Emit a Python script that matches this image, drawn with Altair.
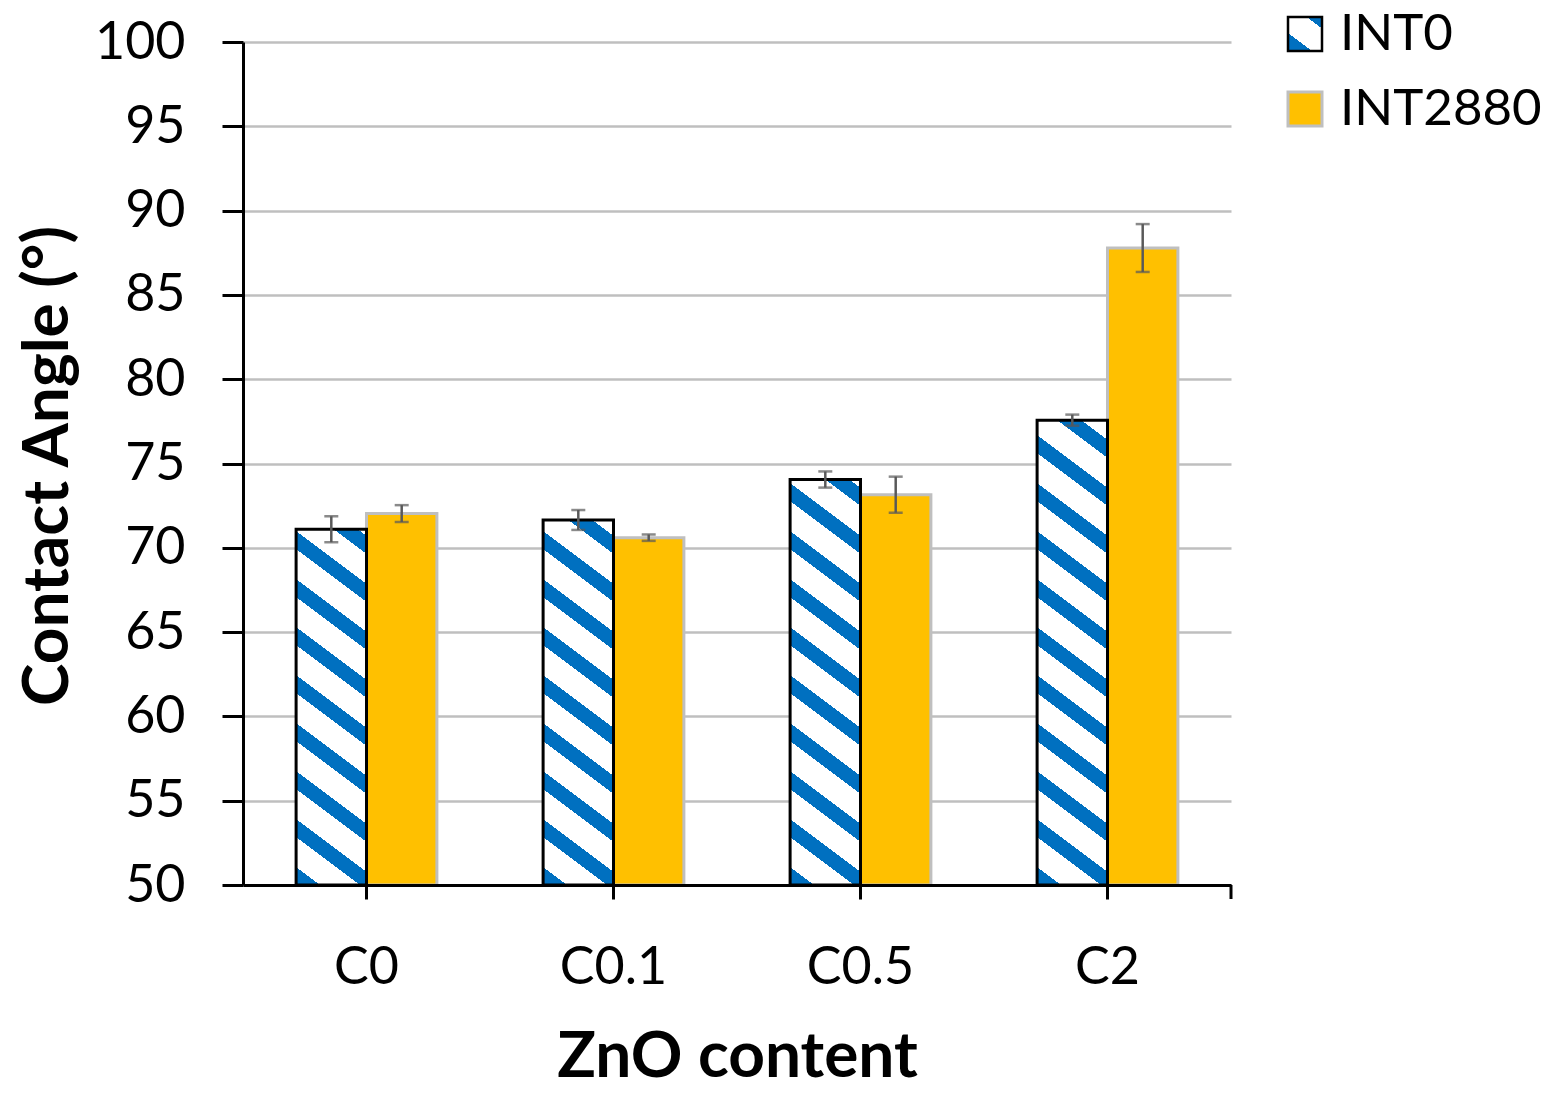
import altair as alt
import pandas as pd

# ---- data ----
categories = ["C0", "C0.1", "C0.5", "C2"]
series = ["INT0", "INT2880"]
int0_values = [71.1, 71.65, 74.05, 77.57]
int0_errors = [0.77, 0.59, 0.48, 0.33]
int2880_values = [72.03, 70.6, 73.15, 87.78]
int2880_errors = [0.5, 0.19, 1.07, 1.42]
y_ticks = [50, 55, 60, 65, 70, 75, 80, 85, 90, 95, 100]

# ---- style ----
W, H = 988, 843
Y_MIN, Y_MAX = 50, 100
FONT = "Lato"
BLUE = "#0070C0"
WHITE = "#FFFFFF"
ORANGE = "#FFC000"
LIGHTGRAY = "#BFBFBF"
ERRGRAY = "#595959"
PAD_INNER, PAD_OUTER = 0.43, 0.215
SLOPE, PERIOD, BAND = 0.75, 48.0, 18.0

rows = []
for c, v, e in zip(categories, int0_values, int0_errors):
    rows.append({"cat": c, "series": "INT0", "value": v, "lo": v - e, "hi": v + e})
for c, v, e in zip(categories, int2880_values, int2880_errors):
    rows.append({"cat": c, "series": "INT2880", "value": v, "lo": v - e, "hi": v + e})
df = pd.DataFrame(rows)


def stripe_gradient(w, h):
    """Diagonal stripe fill as a hard-stop linear gradient (bbox units)."""
    span = SLOPE * w + h
    k = span / (SLOPE ** 2 * w ** 2 + h ** 2)
    edges = {0.0, span}
    p = 0.0
    while p < span:
        for e in (p, p + BAND):
            if 0 < e < span:
                edges.add(e)
        p += PERIOD
    pts = sorted(edges)
    stops = []
    for a, b in zip(pts[:-1], pts[1:]):
        mid = (a + b) / 2
        col = BLUE if (mid % PERIOD) < BAND else WHITE
        stops.append({"offset": a / span, "color": col})
        stops.append({"offset": b / span, "color": col})
    return {"gradient": "linear", "x1": 0, "y1": 1,
            "x2": k * SLOPE * w, "y2": 1 - k * h, "stops": stops}


step = W / (len(categories) - PAD_INNER + 2 * PAD_OUTER)
bar_w = step * (1 - PAD_INNER) / len(series)

x_enc = alt.X(
    "cat:N",
    scale=alt.Scale(domain=categories, paddingInner=PAD_INNER, paddingOuter=PAD_OUTER),
    axis=alt.Axis(
        title="ZnO content", labelAngle=0, bandPosition=0.5,
        tickSize=14, tickWidth=3, tickColor="black",
        domainColor="black", domainWidth=3,
        labelPadding=84, labelBaseline="alphabetic",
        titleX=W / 2, titleY=191, titleBaseline="alphabetic", titleAlign="center",
        grid=False, zindex=1,
    ),
)
xo_enc = alt.XOffset("series:N", scale=alt.Scale(domain=series, paddingInner=0, paddingOuter=0))
y_enc = alt.Y(
    "value:Q",
    scale=alt.Scale(domain=[Y_MIN, Y_MAX], nice=False, zero=False),
    axis=alt.Axis(
        title="Contact Angle (°)", values=y_ticks,
        tickSize=21, tickWidth=3, tickColor="black",
        domainColor="black", domainWidth=3,
        labelPadding=37,
        grid=True, gridColor=LIGHTGRAY, gridWidth=2.5,
        titleX=-176, titleY=H / 2 + 2, titleBaseline="alphabetic", titleAlign="center",
    ),
)
base = alt.Chart(df)

bars_2880 = base.transform_filter(alt.datum.series == "INT2880").mark_bar(
    fill=ORANGE, stroke=LIGHTGRAY, strokeWidth=3
).encode(x=x_enc, xOffset=xo_enc, y=y_enc, y2=alt.datum(Y_MIN))

int0_layers = []
for c, v in zip(categories, int0_values):
    h = (v - Y_MIN) / (Y_MAX - Y_MIN) * H
    int0_layers.append(
        base.transform_filter((alt.datum.series == "INT0") & (alt.datum.cat == c))
        .mark_bar(fill=stripe_gradient(bar_w, h), stroke="black", strokeWidth=3)
        .encode(x=x_enc, xOffset=xo_enc, y=y_enc, y2=alt.datum(Y_MIN))
    )

err_rule = base.mark_rule(color=ERRGRAY, strokeWidth=2.5).encode(
    x=x_enc, xOffset=xo_enc, y=alt.Y("lo:Q"), y2="hi:Q"
)
err_lo = base.mark_tick(color=ERRGRAY, thickness=2.5, size=14).encode(
    x=x_enc, xOffset=xo_enc, y=alt.Y("lo:Q")
)
err_hi = base.mark_tick(color=ERRGRAY, thickness=2.5, size=14).encode(
    x=x_enc, xOffset=xo_enc, y=alt.Y("hi:Q")
)

# end tick at right of the category axis
end_tick = alt.Chart(pd.DataFrame({"k": [0]})).mark_rule(color="black", strokeWidth=3).encode(
    x=alt.value(W), y=alt.value(H), y2=alt.value(H + 14)
)

# ---- legend ----
leg_df0 = pd.DataFrame({"series": [series[0]]})
leg_df1 = pd.DataFrame({"series": [series[1]]})
LX0, LX1 = 1045, 1079
leg_sq0 = alt.Chart(leg_df0).mark_rect(
    fill=stripe_gradient(LX1 - LX0, 34), stroke="black", strokeWidth=2.5
).encode(x=alt.value(LX0), x2=alt.value(LX1), y=alt.value(-25), y2=alt.value(9))
leg_sq1 = alt.Chart(leg_df1).mark_rect(
    fill=ORANGE, stroke=LIGHTGRAY, strokeWidth=3
).encode(x=alt.value(LX0), x2=alt.value(LX1), y=alt.value(50), y2=alt.value(84))
leg_t0 = alt.Chart(leg_df0).mark_text(
    font=FONT, fontSize=51, align="left", baseline="alphabetic", color="black"
).encode(text="series:N", x=alt.value(1097), y=alt.value(8))
leg_t1 = alt.Chart(leg_df1).mark_text(
    font=FONT, fontSize=51, align="left", baseline="alphabetic", color="black"
).encode(text="series:N", x=alt.value(1097), y=alt.value(83))

chart = alt.layer(
    bars_2880, *int0_layers, err_rule, err_lo, err_hi, end_tick,
    leg_sq0, leg_sq1, leg_t0, leg_t1,
).properties(
    width=W, height=H,
    autosize=alt.AutoSizeParams(type="none"),
    padding={"left": 235, "top": 34, "right": 320, "bottom": 200},
).configure_view(
    strokeWidth=0
).configure_axis(
    labelFont=FONT, labelFontSize=52, labelColor="black",
    titleFont=FONT, titleFontSize=64, titleFontWeight="bold", titleColor="black",
)

chart.save("out.html", embed_options={"renderer": "svg", "actions": False})
